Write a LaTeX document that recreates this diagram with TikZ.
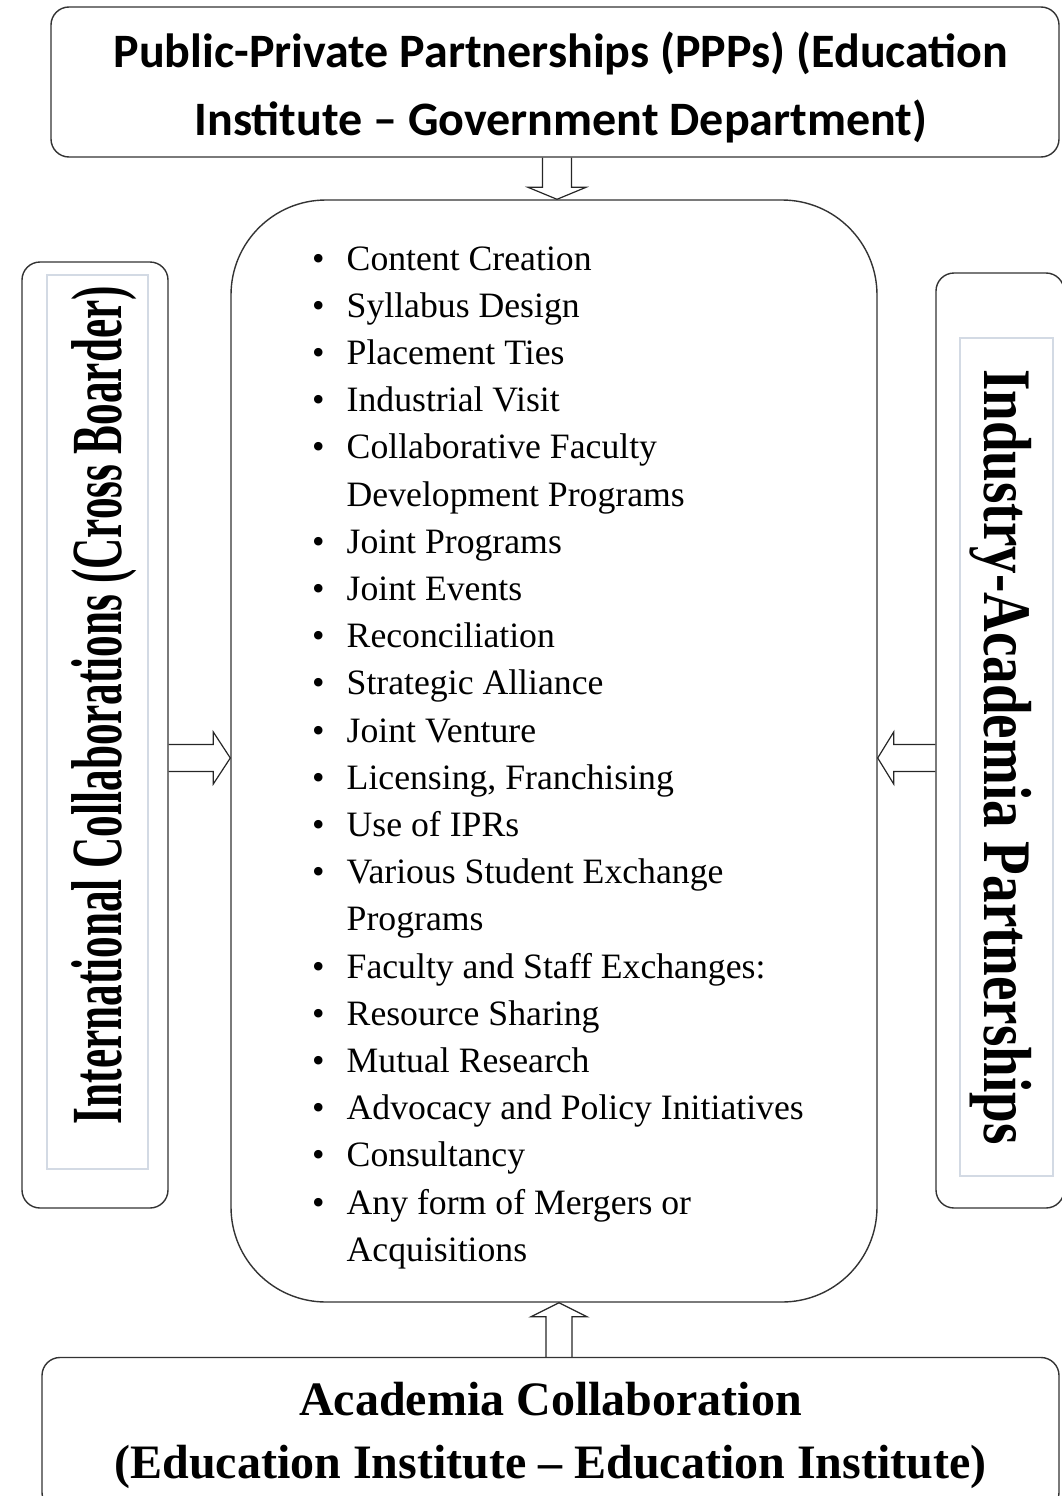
\documentclass[tikz,border=0pt]{standalone}
\usepackage{fontspec}
\usepackage{graphicx}
\setmainfont{Liberation Serif}
\newfontfamily\calfont{Carlito}
\definecolor{framegray}{HTML}{D3DAE4}

\tikzset{
  box/.style={draw=black!80, line width=1.4pt, rounded corners=18pt},
  textframe/.style={draw=framegray, line width=2pt},
  hollow/.style={draw=black!85, line width=1.2pt, line join=miter},
}

\begin{document}
\begin{tikzpicture}[x=1pt,y=1pt]
\useasboundingbox (0,0) rectangle (1061,-1496);

% top box
\node[box, minimum width=1008pt, minimum height=150pt,
  font={\calfont\bfseries\fontsize{48}{68}\selectfont}] (ppp) at (555,-82)
  {\raisebox{-6pt}[\height][\depth]{\begin{tabular}{@{\hspace{12pt}}c@{}}
  Public-Private Partnerships (PPPs) (Education\\Institute – Government Department)
  \end{tabular}}};

% centre box with the list
\node[box, rounded corners=95pt, minimum width=646pt, minimum height=1102pt] (hub) at (554,-751) {};
\node[anchor=base west, inner sep=0pt, font={\fontsize{35.7}{47.2}\selectfont}] (items) at (312,-270)
  {\begin{tabular}[t]{@{}l@{\hspace{22pt}}l@{}}
  \textbullet & Content Creation\\
  \textbullet & Syllabus Design\\
  \textbullet & Placement Ties\\
  \textbullet & Industrial Visit\\
  \textbullet & Collaborative Faculty\\
              & Development Programs\\
  \textbullet & Joint Programs\\
  \textbullet & Joint Events\\
  \textbullet & Reconciliation\\
  \textbullet & Strategic Alliance\\
  \textbullet & Joint Venture\\
  \textbullet & Licensing, Franchising\\
  \textbullet & Use of IPRs\\
  \textbullet & Various Student Exchange\\
              & Programs\\
  \textbullet & Faculty and Staff Exchanges:\\
  \textbullet & Resource Sharing\\
  \textbullet & Mutual Research\\
  \textbullet & Advocacy and Policy Initiatives\\
  \textbullet & Consultancy\\
  \textbullet & Any form of Mergers or\\
              & Acquisitions
  \end{tabular}};

% left side
\node[box, minimum width=146pt, minimum height=946pt] (intl) at (95,-735) {};
\draw[textframe] (47,-275) rectangle (148,-1169);
\node[rotate=90, font={\bfseries\fontsize{72}{72}\selectfont}] (intltxt) at (104,-705)
  {\scalebox{0.6}[1]{International Collaborations (Cross Boarder)}};

% right side
\node[box, minimum width=128pt, minimum height=935pt] (indus) at (1000,-740.5) {};
\draw[textframe] (960,-338) rectangle (1053,-1176);
\node[rotate=-90, font={\bfseries\fontsize{68}{68}\selectfont}] (industxt) at (1001,-757)
  {\scalebox{0.81}[1]{Industry-Academia Partnerships}};

% bottom box
\node[box, minimum width=1017pt, minimum height=153pt,
  font={\bfseries\fontsize{48}{63}\selectfont}] (acad) at (550.5,-1434)
  {\begin{tabular}{@{}c@{}}
  Academia Collaboration\\(Education Institute – Education Institute)
  \end{tabular}};

% block arrows
\draw[hollow] ([xshift=-11.5pt]hub.north |- ppp.south) -- ([xshift=-11.5pt,yshift=12pt]hub.north)
  -- ([xshift=-26pt,yshift=12pt]hub.north) -- ([xshift=3pt]hub.north) -- ([xshift=32pt,yshift=12pt]hub.north)
  -- ([xshift=17.5pt,yshift=12pt]hub.north) -- ([xshift=17.5pt]hub.north |- ppp.south);
\draw[hollow] ([xshift=-8pt]hub.south |- acad.north) -- ([xshift=-8pt,yshift=-14pt]hub.south)
  -- ([xshift=-23pt,yshift=-14pt]hub.south) -- ([xshift=5pt]hub.south) -- ([xshift=33pt,yshift=-14pt]hub.south)
  -- ([xshift=18pt,yshift=-14pt]hub.south) -- ([xshift=18pt]hub.south |- acad.north);
\draw[hollow] ([yshift=6.5pt]hub.west -| intl.east) -- ([xshift=-17pt,yshift=6.5pt]hub.west)
  -- ([xshift=-17pt,yshift=19pt]hub.west) -- ([yshift=-7pt]hub.west) -- ([xshift=-17pt,yshift=-33pt]hub.west)
  -- ([xshift=-17pt,yshift=-20.5pt]hub.west) -- ([yshift=-20.5pt]hub.west -| intl.east);
\draw[hollow] ([yshift=6.5pt]hub.east -| indus.west) -- ([xshift=16pt,yshift=6.5pt]hub.east)
  -- ([xshift=16pt,yshift=19pt]hub.east) -- ([yshift=-7pt]hub.east) -- ([xshift=16pt,yshift=-33pt]hub.east)
  -- ([xshift=16pt,yshift=-20.5pt]hub.east) -- ([yshift=-20.5pt]hub.east -| indus.west);
\end{tikzpicture}
\end{document}
